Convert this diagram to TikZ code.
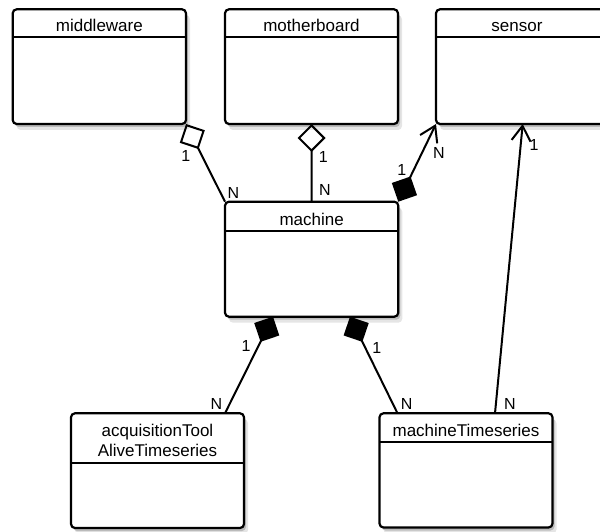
\documentclass[tikz,border=0pt]{standalone}
\usepackage{fontspec}
\setmainfont{Liberation Sans}
\usetikzlibrary{arrows.meta,shadows,calc}
\begin{document}
\begin{tikzpicture}[x=1pt,y=-1pt,
  umlbox/.style={draw=black, line width=2.2pt, rounded corners=4pt, fill=white,
    inner sep=0pt, outer sep=0pt, anchor=north west,
    drop shadow={shadow xshift=2pt, shadow yshift=-3pt, opacity=0.18, fill=black},
    drop shadow={shadow xshift=4pt, shadow yshift=-6pt, opacity=0.10, fill=black}},
  sepline/.style={draw=black, line width=2.2pt},
  title/.style={inner sep=0pt, font=\fontsize{17}{20}\selectfont, anchor=base},
  lbl/.style={inner sep=0pt, font=\fontsize{16}{19}\selectfont},
  conn/.style={draw=black, line width=2pt},
  odia/.style={conn, {Diamond[open,length=28pt,width=28pt]}-},
  fdia/.style={conn, {Diamond[length=28pt,width=28pt]}-},
  fdiaarr/.style={conn, {Diamond[length=28pt,width=28pt]}-{Straight Barb[length=15pt,width=19pt]}},
  arr/.style={conn, -{Straight Barb[length=15pt,width=19pt]}}
]
\path[use as bounding box, clip] (0,0) rectangle (600,532);
\fill[white] (0,0) rectangle (600,532);

% boxes
\node[umlbox, minimum width=173.3pt, minimum height=114.7pt] (mw) at (12.7,9.3) {};
\node[umlbox, minimum width=173pt, minimum height=114.7pt] (mb) at (225,9.3) {};
\node[umlbox, minimum width=176pt, minimum height=114.7pt] (sen) at (436,9.3) {};
\node[umlbox, minimum width=173.3pt, minimum height=115pt] (mach) at (225,201.7) {};
\node[umlbox, minimum width=173pt, minimum height=114.7pt] (acq) at (71,413.3) {};
\node[umlbox, minimum width=173pt, minimum height=114.2pt] (mts) at (379.5,413.3) {};

% header separators
\draw[sepline] (mw.west |- 0,37.3) -- (mw.east |- 0,37.3);
\draw[sepline] (mb.west |- 0,37.3) -- (mb.east |- 0,37.3);
\draw[sepline] (sen.west |- 0,37.3) -- (sen.east |- 0,37.3);
\draw[sepline] (mach.west |- 0,230.7) -- (mach.east |- 0,230.7);
\draw[sepline] (acq.west |- 0,462.7) -- (acq.east |- 0,462.7);
\draw[sepline] (mts.west |- 0,441.7) -- (mts.east |- 0,441.7);

% titles
\node[title] (mwt) at (mw.north |- 0,32) {middleware};
\node[title] (mbt) at (mb.north |- 0,32) {motherboard};
\node[title] (sent) at (517,32) {sensor};
\node[title] (macht) at (mach.north |- 0,225.2) {machine};
\node[title, align=center] (acqt) at (acq.north |- 0,456.7) {acquisitionTool\\AliveTimeseries};
\node[title] (mtst) at (mts.north |- 0,436.2) {machineTimeseries};

% connectors
\draw[odia] (mw.south east) -- (mach.north west);
\draw[odia] (mb.south) -- (mach.north);
\draw[fdiaarr] (mach.north east) -- (sen.south west);
\draw[arr] ([xshift=115.5pt]mts.north west) -- ([xshift=86.7pt]sen.south west);
\draw[fdia] ([xshift=48pt]mach.south west) -- ([xshift=154pt]acq.north west);
\draw[fdia] ([xshift=125pt]mach.south west) -- ([xshift=18pt]mts.north west);

% multiplicities
\node[lbl] (m1a) at (185.7,155.5) {1};
\node[lbl] (m1b) at (233.3,192.5) {N};
\node[lbl] (m2a) at (323.3,156.5) {1};
\node[lbl] (m2b) at (325,190) {N};
\node[lbl] (m3a) at (401.7,170) {1};
\node[lbl] (m3b) at (439,153) {N};
\node[lbl] (m4a) at (534,145) {1};
\node[lbl] (m4b) at (510,403.5) {N};
\node[lbl] (m5a) at (246,346) {1};
\node[lbl] (m5b) at (216.5,404) {N};
\node[lbl] (m6a) at (376.7,348) {1};
\node[lbl] (m6b) at (406.7,404) {N};
\end{tikzpicture}
\end{document}
